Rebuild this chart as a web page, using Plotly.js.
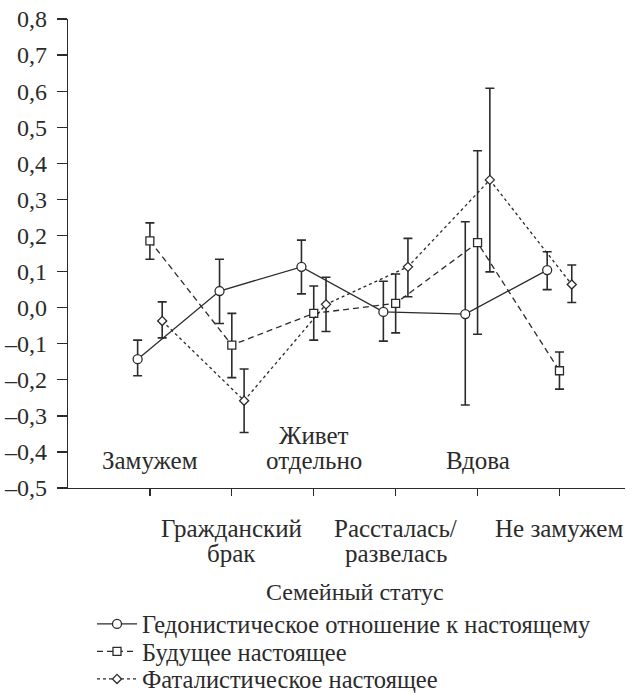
<!DOCTYPE html>
<html>
<head>
<meta charset="utf-8">
<script src="https://cdn.plot.ly/plotly-3.0.1.min.js"></script>
<style>html,body{margin:0;padding:0;background:#fff;}#chart{width:639px;height:693px;}</style>
</head>
<body>
<div id="chart"></div>
<script>
// Categories (x axis)
const categories = ["Замужем", "Гражданский брак", "Живет отдельно", "Рассталась/ развелась", "Вдова", "Не замужем"];
const categoryLabels = ["Замужем", "Гражданский<br>брак", "Живет<br>отдельно", "Рассталась/<br>развелась", "Вдова", "Не замужем"];
const xAxisTitle = "Семейный статус";

// Series names
const seriesNames = ["Гедонистическое отношение к настоящему", "Будущее настоящее", "Фаталистическое настоящее"];

// Гедонистическое отношение к настоящему
const hedonMean  = [-0.143, 0.046, 0.113, -0.012, -0.018, 0.104];
const hedonUpper = [-0.090, 0.134, 0.187, 0.073, 0.238, 0.155];
const hedonLower = [-0.189, -0.044, 0.038, -0.093, -0.270, 0.050];

// Будущее настоящее
const futureMean  = [0.185, -0.104, -0.016, 0.012, 0.180, -0.175];
const futureUpper = [0.235, -0.016, 0.060, 0.093, 0.435, -0.123];
const futureLower = [0.134, -0.194, -0.090, -0.070, -0.074, -0.226];

// Фаталистическое настоящее
const fatalMean  = [-0.037, -0.258, 0.009, 0.113, 0.354, 0.064];
const fatalUpper = [0.016, -0.170, 0.084, 0.192, 0.608, 0.118];
const fatalLower = [-0.084, -0.346, -0.066, 0.030, 0.099, 0.014];

// y ticks
const yTicks = [-0.5, -0.4, -0.3, -0.2, -0.1, 0, 0.1, 0.2, 0.3, 0.4, 0.5, 0.6, 0.7, 0.8];

const FONT = "Liberation Serif";
const FS = 24;
const INK = "#2b2b2b";
const catPos = categories.map((c, i) => i + 1);

function series(name, mean, upper, lower, offset, dash, symbol, msize, legendId) {
  return {
    type: "scatter",
    mode: "lines+markers",
    name: name,
    legend: legendId,
    x: catPos.map(p => p + offset),
    y: mean,
    line: {color: INK, width: 1.3, dash: dash},
    marker: {symbol: symbol, size: msize, color: "#ffffff", line: {color: INK, width: 1.3}},
    error_y: {
      type: "data", symmetric: false,
      array: upper.map((u, i) => u - mean[i]),
      arrayminus: mean.map((m, i) => m - lower[i]),
      color: INK, thickness: 1.6, width: 4.5
    }
  };
}

const traces = [
  series(seriesNames[0], hedonMean, hedonUpper, hedonLower, -0.15, "solid", "circle", 9, "legend"),
  series(seriesNames[1], futureMean, futureUpper, futureLower, 0, "6px,4px", "square", 8, "legend2"),
  series(seriesNames[2], fatalMean, fatalUpper, fatalLower, 0.15, "dot", "diamond", 7, "legend3")
];

const annotations = [];
categoryLabels.forEach((lab, i) => {
  const inside = (i % 2 === 0);
  const lines = lab.split("<br>");
  lines.forEach((ln, k) => {
    const shift = inside ? (28 + (lines.length - 1 - k) * 25) : -(40 + k * 25);
    annotations.push({
      x: catPos[i], y: -0.5, xref: "x", yref: "y",
      text: ln, showarrow: false,
      xanchor: "center", yanchor: "middle",
      yshift: shift,
      font: {family: FONT, size: 25, color: INK}
    });
  });
});
annotations.push({
  x: 3.5, y: -0.5, xref: "x", yref: "y",
  text: xAxisTitle, showarrow: false,
  xanchor: "center", yanchor: "middle", yshift: -104,
  font: {family: FONT, size: FS, color: INK}
});

function legendAt(centerPx) {
  return {
    x: 92 / 639, xref: "container", xanchor: "left",
    y: 1 - centerPx / 693, yref: "container", yanchor: "middle",
    font: {family: FONT, size: 24.5, color: INK},
    bgcolor: "rgba(0,0,0,0)", borderwidth: 0, itemwidth: 40
  };
}

const layout = {
  width: 639, height: 693,
  margin: {l: 68, r: 14, t: 19, b: 205, pad: 0, autoexpand: false},
  paper_bgcolor: "#ffffff", plot_bgcolor: "#ffffff",
  separators: ", ",
  showlegend: true,
  legend: legendAt(624),
  legend2: legendAt(651.5),
  legend3: legendAt(679),
  font: {family: FONT, size: FS, color: INK},
  xaxis: {
    range: [0, 6.8], showgrid: false, zeroline: false,
    showline: true, linecolor: INK, linewidth: 1.3,
    tickmode: "array", tickvals: catPos, ticktext: catPos.map(() => ""),
    ticks: "outside", ticklen: 7, tickwidth: 1.3, tickcolor: INK
  },
  yaxis: {
    range: [-0.5, 0.8], showgrid: false, zeroline: false,
    showline: true, linecolor: INK, linewidth: 1.3,
    tickmode: "array", tickvals: yTicks,
    ticktext: yTicks.map(v => (v < 0 ? "–" : "") + Math.abs(v).toFixed(1).replace(".", ",")),
    ticks: "outside", ticklen: 10, tickwidth: 1.3, tickcolor: INK,
    ticklabelstandoff: 5,
    tickfont: {family: FONT, size: FS, color: INK}
  },
  annotations: annotations
};

Plotly.newPlot("chart", traces, layout, {staticPlot: true, displayModeBar: false});
</script>
</body>
</html>
